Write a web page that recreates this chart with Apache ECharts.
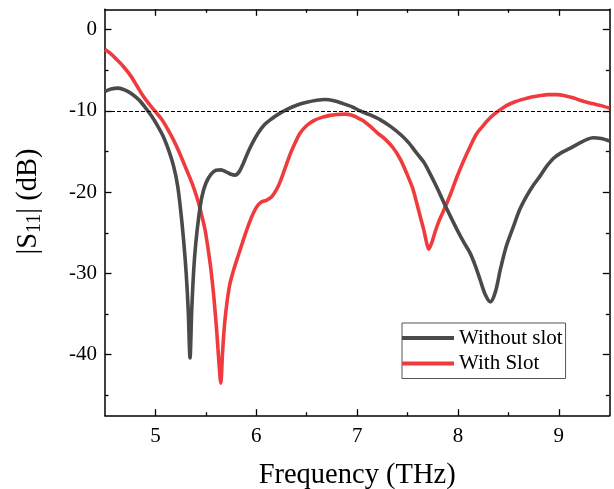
<!DOCTYPE html>
<html><head><meta charset="utf-8">
<script src="https://cdn.jsdelivr.net/npm/echarts@6/dist/echarts.min.js"></script>
<style>html,body{margin:0;padding:0;background:#fff}#c{width:614px;height:489px}</style>
</head><body><div id="c"></div>
<script>
var withoutSlot = [[4.5,-7.6],[4.56,-7.3],[4.63,-7.2],[4.7,-7.45],[4.77,-7.95],[4.84,-8.7],[4.9,-9.6],[4.96,-10.6],[5.02,-11.8],[5.08,-13.2],[5.13,-14.8],[5.18,-16.8],[5.22,-19.2],[5.25,-22.2],[5.28,-26],[5.305,-30],[5.325,-34.5],[5.343,-40.4],[5.36,-34.5],[5.38,-29.5],[5.4,-26.3],[5.43,-23],[5.46,-20.6],[5.5,-18.9],[5.55,-17.8],[5.6,-17.3],[5.65,-17.25],[5.7,-17.5],[5.75,-17.8],[5.79,-17.9],[5.83,-17.5],[5.87,-16.5],[5.91,-15.3],[5.96,-14],[6.02,-12.7],[6.08,-11.7],[6.15,-11.0],[6.22,-10.4],[6.3,-9.85],[6.4,-9.3],[6.5,-8.95],[6.6,-8.7],[6.68,-8.6],[6.77,-8.75],[6.86,-9.1],[6.95,-9.5],[7.03,-10],[7.13,-10.5],[7.23,-11.1],[7.33,-11.9],[7.43,-12.9],[7.51,-13.9],[7.59,-15.2],[7.66,-16.3],[7.72,-17.65],[7.79,-19.4],[7.86,-21.3],[7.93,-23.1],[7.99,-24.6],[8.05,-26],[8.12,-27.5],[8.17,-29],[8.22,-30.8],[8.27,-32.6],[8.32,-33.5],[8.37,-32.3],[8.42,-29.5],[8.48,-26.6],[8.55,-24.2],[8.61,-22.2],[8.68,-20.5],[8.75,-19.1],[8.82,-17.9],[8.88,-16.8],[8.95,-15.8],[9.03,-15.1],[9.11,-14.6],[9.2,-14],[9.28,-13.5],[9.34,-13.3],[9.42,-13.4],[9.5,-13.7]];
var withSlot = [[4.5,-2.46],[4.55,-2.9],[4.61,-3.6],[4.68,-4.5],[4.75,-5.6],[4.82,-7.0],[4.88,-8.2],[4.94,-9.2],[5.0,-10.1],[5.06,-11.0],[5.12,-12.2],[5.18,-13.6],[5.24,-15.2],[5.3,-17],[5.36,-18.8],[5.41,-20.6],[5.45,-22.4],[5.49,-24.5],[5.52,-26.8],[5.55,-29.5],[5.58,-33],[5.61,-37.5],[5.63,-41],[5.648,-43.5],[5.665,-39.8],[5.685,-36.3],[5.71,-33.5],[5.74,-31.2],[5.775,-29.6],[5.81,-28.2],[5.85,-26.7],[5.89,-25.2],[5.93,-23.8],[5.97,-22.6],[6.01,-21.7],[6.05,-21.2],[6.1,-21.0],[6.15,-20.6],[6.2,-19.7],[6.24,-18.6],[6.29,-16.9],[6.34,-15.2],[6.39,-13.8],[6.43,-12.8],[6.5,-11.8],[6.57,-11.2],[6.65,-10.8],[6.73,-10.55],[6.8,-10.45],[6.88,-10.4],[6.94,-10.5],[6.99,-10.75],[7.06,-11.2],[7.13,-11.9],[7.2,-12.7],[7.28,-13.5],[7.36,-14.6],[7.43,-16],[7.49,-17.65],[7.55,-19.5],[7.59,-21.3],[7.63,-23.2],[7.66,-24.6],[7.69,-26.3],[7.71,-27.0],[7.74,-26.2],[7.77,-25.0],[7.81,-23.6],[7.86,-22.2],[7.93,-20.1],[7.99,-18.1],[8.06,-16],[8.12,-14.4],[8.18,-12.9],[8.25,-11.8],[8.3,-11.1],[8.35,-10.5],[8.42,-9.85],[8.48,-9.35],[8.56,-8.9],[8.65,-8.55],[8.73,-8.3],[8.82,-8.1],[8.9,-8.0],[8.98,-8.0],[9.05,-8.1],[9.11,-8.3],[9.18,-8.55],[9.25,-8.85],[9.33,-9.1],[9.42,-9.35],[9.5,-9.65]];
var xMajor = [5, 6, 7, 8, 9];
var xMinor = [5.5, 6.5, 7.5, 8.5];
var yMajor = [0, -10, -20, -30, -40];
var yMinor = [-5, -15, -25, -35, -45];
var refLevel = -10;
var seriesNames = ['Without slot', 'With Slot'];

var FONT = '"Liberation Serif", "Times New Roman", serif';
var frame = {show: true, onZero: false, lineStyle: {color: '#000', width: 1.5}};
var noLine = {show: false, onZero: false};
function xAx(pos, ticks, len, labels, extra) {
  var a = {type: 'value', min: 4.5, max: 9.5, position: pos, gridIndex: 0,
    axisLine: labels !== null ? frame : noLine,
    splitLine: {show: false},
    axisTick: {show: true, inside: true, length: len, customValues: ticks, lineStyle: {color: '#000', width: 1.3}},
    axisLabel: labels ? {show: true, customValues: ticks, fontFamily: FONT, fontSize: 21, color: '#000', margin: 10} : {show: false}
  };
  return Object.assign(a, extra || {});
}
function yAx(pos, ticks, len, labels, extra) {
  var a = {type: 'value', min: -47.5, max: 2.5, position: pos, gridIndex: 0,
    axisLine: labels !== null ? frame : noLine,
    splitLine: {show: false},
    axisTick: {show: true, inside: true, length: len, customValues: ticks, lineStyle: {color: '#000', width: 1.3}},
    axisLabel: labels ? {show: true, customValues: ticks, fontFamily: FONT, fontSize: 21, color: '#000', margin: 8} : {show: false}
  };
  return Object.assign(a, extra || {});
}
var chart = echarts.init(document.getElementById('c'));
chart.setOption({
  animation: false,
  backgroundColor: '#fff',
  grid: {left: 105, right: 4.7, top: 9.3, bottom: 73.3, containLabel: false, outerBoundsMode: 'none'},
  xAxis: [
    xAx('bottom', xMajor, 6.5, true, {name: 'Frequency (THz)', nameLocation: 'middle', nameGap: 45,
      nameTextStyle: {fontFamily: FONT, fontSize: 28.5, color: '#000'}}),
    xAx('bottom', xMinor, 3.5, null),
    xAx('top', xMajor, 6.5, false),
    xAx('top', xMinor, 3.5, null)
  ],
  yAxis: [
    yAx('left', yMajor, 6.5, true, {name: '|S{sub|11}| (dB)', nameLocation: 'middle', nameGap: 60, nameRotate: 90,
      nameTextStyle: {fontFamily: FONT, fontSize: 28.5, color: '#000', padding: [0, 0, 0, 22],
        rich: {sub: {fontFamily: FONT, fontSize: 20, color: '#000', padding: [12, 0, 0, 0]}}}}),
    yAx('left', yMinor, 3.5, null),
    yAx('right', yMajor, 6.5, false),
    yAx('right', yMinor, 3.5, null)
  ],
  legend: {
    orient: 'vertical', left: 402, top: 323,
    padding: [3, 3, 3, 0], itemGap: 1.5, itemWidth: 52, itemHeight: 4, icon: 'rect',
    borderColor: '#555', borderWidth: 1, backgroundColor: '#fff',
    textStyle: {fontFamily: FONT, fontSize: 21, color: '#000', lineHeight: 24},
    data: seriesNames
  },
  series: [
    {name: seriesNames[0], type: 'line', data: withoutSlot, showSymbol: false, smooth: 0.3,
      lineStyle: {color: '#4a4a4a', width: 3.6}, itemStyle: {color: '#4a4a4a'}, z: 3,
      markLine: {silent: true, symbol: 'none', label: {show: false},
        lineStyle: {color: '#000', type: [4, 2], width: 1}, data: [{yAxis: refLevel}]}},
    {name: seriesNames[1], type: 'line', data: withSlot, showSymbol: false, smooth: 0.3,
      lineStyle: {color: '#f03b3e', width: 3.6}, itemStyle: {color: '#f03b3e'}, z: 2}
  ]
});
</script></body></html>
